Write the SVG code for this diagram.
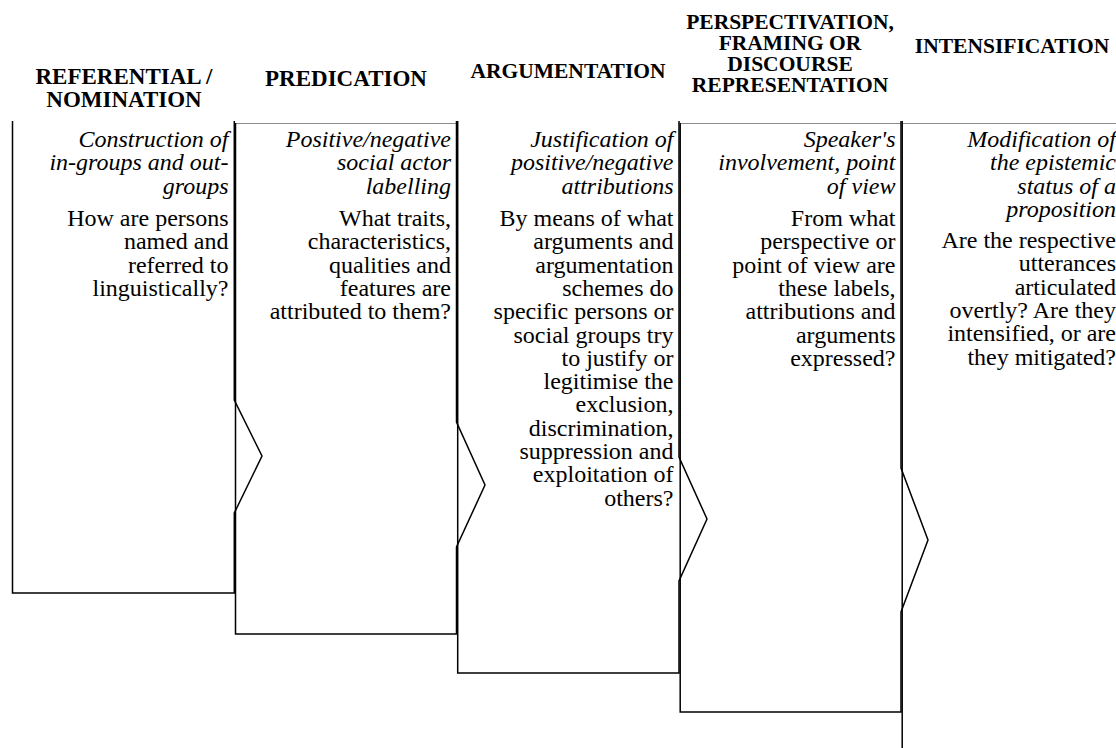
<svg xmlns="http://www.w3.org/2000/svg" width="1116" height="748" viewBox="0 0 1116 748">
<style>
.box{fill:none;stroke:#000;stroke-width:1.5;stroke-linejoin:miter}
.top{fill:none;stroke:#8c8c8c;stroke-width:1}
.hd{font-family:"Liberation Serif","Times New Roman",serif;font-weight:bold;font-size:21.5px;text-anchor:middle;fill:#000}
.hdl{font-size:23px}
.it{font-family:"Liberation Serif","Times New Roman",serif;font-style:italic;font-size:24px;text-anchor:end;fill:#000}
.bd{font-family:"Liberation Serif","Times New Roman",serif;font-size:24px;text-anchor:end;fill:#000}
</style>
<rect width="1116" height="748" fill="#fff"/>

<g id="referential">
<path class="box" d="M234.3,121 V400 L262,456 L234.3,513 V593 H12.5 V121"/>
<text class="hd hdl" x="124" y="84">REFERENTIAL /</text>
<text class="hd hdl" x="124" y="107">NOMINATION</text>
<text class="it" x="228.5" y="147">Construction of</text>
<text class="it" x="228.5" y="170.3">in-groups and out-</text>
<text class="it" x="228.5" y="193.6">groups</text>
<text class="bd" x="228.5" y="226">How are persons</text>
<text class="bd" x="228.5" y="249.3">named and</text>
<text class="bd" x="228.5" y="272.6">referred to</text>
<text class="bd" x="228.5" y="295.9">linguistically?</text>
</g>

<g id="predication">
<path class="top" d="M235.5,123.5 H457"/>
<path class="box" d="M456.5,121 V422 L485,485 L456.5,547 V634 H235.5 V123"/>
<text class="hd hdl" x="346" y="86">PREDICATION</text>
<text class="it" x="451" y="147">Positive/negative</text>
<text class="it" x="451" y="170.3">social actor</text>
<text class="it" x="451" y="193.6">labelling</text>
<text class="bd" x="451" y="226">What traits,</text>
<text class="bd" x="451" y="249.3">characteristics,</text>
<text class="bd" x="451" y="272.6">qualities and</text>
<text class="bd" x="451" y="295.9">features are</text>
<text class="bd" x="451" y="319.2">attributed to them?</text>
</g>

<g id="argumentation">
<path class="box" d="M679,121 V457 L707,519 L679,581 V673 H457.7 V121"/>
<text class="hd" x="568" y="78">ARGUMENTATION</text>
<text class="it" x="673.5" y="147">Justification of</text>
<text class="it" x="673.5" y="170.3">positive/negative</text>
<text class="it" x="673.5" y="193.6">attributions</text>
<text class="bd" x="673.5" y="226">By means of what</text>
<text class="bd" x="673.5" y="249.3">arguments and</text>
<text class="bd" x="673.5" y="272.6">argumentation</text>
<text class="bd" x="673.5" y="295.9">schemes do</text>
<text class="bd" x="673.5" y="319.2">specific persons or</text>
<text class="bd" x="673.5" y="342.5">social groups try</text>
<text class="bd" x="673.5" y="365.8">to justify or</text>
<text class="bd" x="673.5" y="389.1">legitimise the</text>
<text class="bd" x="673.5" y="412.4">exclusion,</text>
<text class="bd" x="673.5" y="435.7">discrimination,</text>
<text class="bd" x="673.5" y="459">suppression and</text>
<text class="bd" x="673.5" y="482.3">exploitation of</text>
<text class="bd" x="673.5" y="505.6">others?</text>
</g>

<g id="perspectivation">
<path class="top" d="M680.2,123.5 H901"/>
<path class="box" d="M901,121 V468 L928,540 L901,612 V712 H680.2 V123"/>
<text class="hd" x="790" y="29">PERSPECTIVATION,</text>
<text class="hd" x="790" y="50">FRAMING OR</text>
<text class="hd" x="790" y="71">DISCOURSE</text>
<text class="hd" x="790" y="92">REPRESENTATION</text>
<text class="it" x="895.5" y="147">Speaker's</text>
<text class="it" x="895.5" y="170.3">involvement, point</text>
<text class="it" x="895.5" y="193.6">of view</text>
<text class="bd" x="895.5" y="226">From what</text>
<text class="bd" x="895.5" y="249.3">perspective or</text>
<text class="bd" x="895.5" y="272.6">point of view are</text>
<text class="bd" x="895.5" y="295.9">these labels,</text>
<text class="bd" x="895.5" y="319.2">attributions and</text>
<text class="bd" x="895.5" y="342.5">arguments</text>
<text class="bd" x="895.5" y="365.8">expressed?</text>
</g>

<g id="intensification">
<path class="top" d="M902.2,123.5 H1116"/>
<path class="box" d="M902.2,121 V760"/>
<text class="hd" x="1012" y="53">INTENSIFICATION</text>
<text class="it" x="1116" y="147">Modification of</text>
<text class="it" x="1116" y="170.3">the epistemic</text>
<text class="it" x="1116" y="193.6">status of a</text>
<text class="it" x="1116" y="216.9">proposition</text>
<text class="bd" x="1116" y="248">Are the respective</text>
<text class="bd" x="1116" y="271.3">utterances</text>
<text class="bd" x="1116" y="294.6">articulated</text>
<text class="bd" x="1116" y="317.9">overtly? Are they</text>
<text class="bd" x="1116" y="341.2">intensified, or are</text>
<text class="bd" x="1116" y="364.5">they mitigated?</text>
</g>

<g id="connectors"></g>
</svg>
